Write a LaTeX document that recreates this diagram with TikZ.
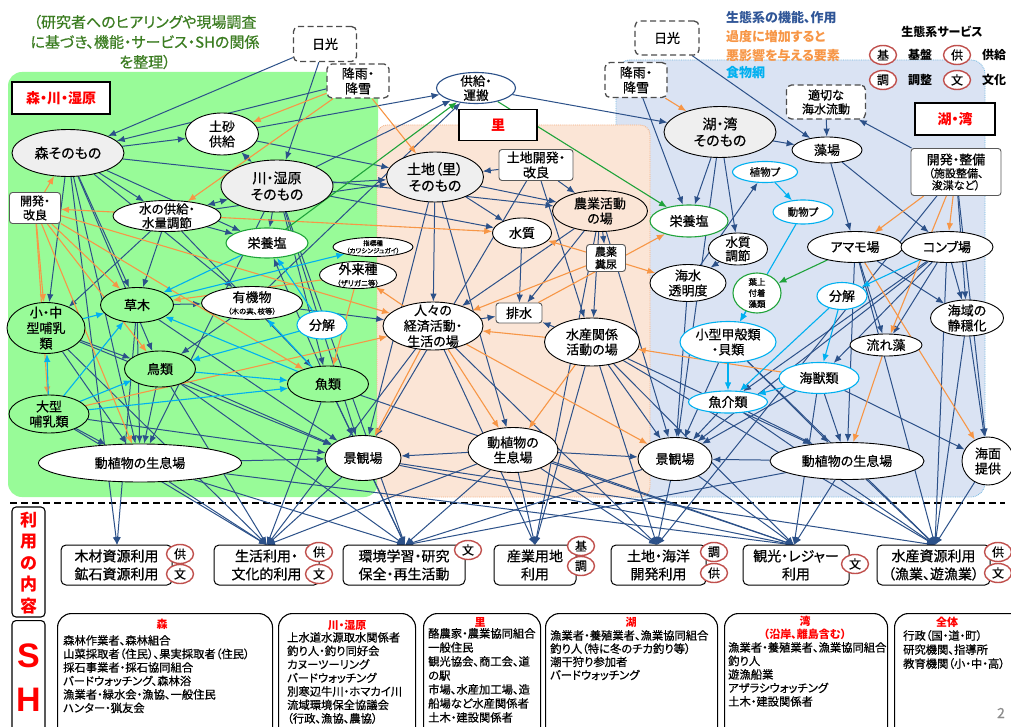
\documentclass[tikz,border=0pt]{standalone}
\usepackage{fontspec}
\setmainfont{Noto Sans CJK JP}[RawFeature=+palt, FakeBold=0.6, BoldFeatures={FakeBold=0}]
\newfontfamily\arialf{Liberation Sans}
\usetikzlibrary{shapes.geometric,arrows.meta}
\definecolor{gbg}{HTML}{98FB98}
\definecolor{pbg}{HTML}{FBE5D6}
\definecolor{pbd}{HTML}{F4B183}
\definecolor{bbg}{HTML}{DAE3F3}
\definecolor{bbd}{HTML}{6FB7E0}
\definecolor{grayf}{HTML}{EFEFEF}
\definecolor{dblue}{HTML}{2C5189}
\definecolor{orng}{HTML}{F79646}
\definecolor{lblue}{HTML}{00B0F0}
\definecolor{ngreen}{HTML}{1FA33A}
\definecolor{svcred}{HTML}{C0504D}
\definecolor{tgreen}{HTML}{3C7D22}
\definecolor{legblue}{HTML}{2F5597}
\pgfdeclarelayer{bgl}
\pgfdeclarelayer{edl}
\pgfsetlayers{bgl,edl,main}
\newcommand{\myell}[8]{%
  \node[#1, minimum width=#5, minimum height=#6] (#2) at (#3,#4) {};
  \node[txt, #8] (#2t) at (#2.center) {#7};}
\begin{document}
\begin{tikzpicture}[x=1pt,y=-1pt,
  txt/.style={inner sep=0pt, align=center, font=\fontsize{13}{15}\selectfont},
  el/.style={ellipse, draw=black, line width=0.9pt, fill=white, inner sep=0pt},
  elg/.style={el, fill=grayf},
  elgr/.style={el, fill=gbg},
  elp/.style={el, fill=pbg},
  ellb/.style={el, draw=lblue, line width=1.1pt},
  elgn/.style={el, draw=ngreen, line width=1.1pt},
  eldb/.style={el, draw=dblue, line width=1.1pt},
  rbox/.style={rectangle, rounded corners=3pt, draw=black!65, line width=0.9pt, fill=white, inner sep=0pt},
  dbox/.style={rectangle, rounded corners=5pt, draw=black!70, dash pattern=on 6pt off 3.5pt, line width=1.3pt, fill=white, inner sep=0pt},
  lbl/.style={rectangle, draw=black, line width=1.6pt, fill=white, text=red, font=\bfseries\fontsize{14}{16}\selectfont, inner sep=0pt},
  ubox/.style={rectangle, rounded corners=5pt, draw=black, line width=1pt, fill=white, inner sep=0pt},
  svc/.style={ellipse, draw=svcred, line width=1.4pt, fill=white, minimum width=27pt, minimum height=19pt, inner sep=0pt, font=\fontsize{12}{12}\selectfont},
  shbox/.style={rectangle, rounded corners=14pt, draw=black, line width=1.1pt, fill=white, anchor=north west, inner sep=0pt},
  shtxt/.style={anchor=north west, align=left, inner sep=0pt, font=\fontsize{11.3}{13.5}\selectfont},
  shttl/.style={text=red, font=\bfseries\fontsize{11}{13}\selectfont, inner sep=0pt, align=center},
  ab/.style={draw=dblue, line width=1pt, -{Latex[length=8pt,width=6.5pt]}},
  abb/.style={draw=dblue, line width=1pt, {Latex[length=8pt,width=6.5pt]}-{Latex[length=8pt,width=6.5pt]}},
  ao/.style={draw=orng, line width=1.1pt, -{Latex[length=8pt,width=6.5pt]}},
  aoo/.style={draw=orng, line width=1.1pt, {Latex[length=8pt,width=6.5pt]}-{Latex[length=8pt,width=6.5pt]}},
  al/.style={draw=lblue, line width=1.1pt, -{Latex[length=8pt,width=6.5pt]}},
  ag/.style={draw=ngreen, line width=1.1pt, -{Latex[length=8pt,width=6.5pt]}},
]
\useasboundingbox (0,0) rectangle (1011,727);

\begin{pgfonlayer}{bgl}
\fill[white] (0,0) rectangle (1011,727);
\fill[bbg, rounded corners=14] (616,60) rectangle (985,497);
\draw[densely dotted, draw=bbd, line width=0.8pt, rounded corners=14] (616,60) rectangle (985,497);
\fill[gbg, rounded corners=14] (8,72) rectangle (378,497);
\fill[pbg, rounded corners=10] (377,125) rectangle (650,497);
\draw[densely dotted, draw=pbd, line width=0.9pt, rounded corners=10] (377,125) rectangle (650,497);
\draw[dash pattern=on 7pt off 4pt, line width=1.2pt] (10,503) -- (1005,503);
\end{pgfonlayer}

% ---------- header texts
\node[inner sep=0pt, align=center, text=tgreen, font=\fontsize{15}{20}\selectfont] (note) at (145,42)
  {（研究者へのヒアリングや現場調査\\に基づき、機能・サービス・SHの関係\\を整理）};
\node[anchor=west, inner sep=0pt, text=legblue, font=\bfseries\fontsize{13}{15}\selectfont] (leg1) at (726,18) {生態系の機能、作用};
\node[anchor=west, inner sep=0pt, text=orng, font=\bfseries\fontsize{13}{15}\selectfont] (leg2) at (726,37) {過度に増加すると};
\node[anchor=west, inner sep=0pt, text=orng, font=\bfseries\fontsize{13}{15}\selectfont] (leg3) at (726,56) {悪影響を与える要素};
\node[anchor=west, inner sep=0pt, text=lblue, font=\bfseries\fontsize{13}{15}\selectfont] (leg4) at (726,73) {食物網};
\node[inner sep=0pt, font=\bfseries\fontsize{12}{14}\selectfont] (legs) at (942,32) {生態系サービス};
\node[svc] (lc1) at (883,55) {基};
\node[inner sep=0pt, font=\bfseries\fontsize{12}{14}\selectfont] (lt1) at (920,55) {基盤};
\node[svc] (lc2) at (957,55) {供};
\node[anchor=west, inner sep=0pt, font=\bfseries\fontsize{12}{14}\selectfont] (lt2) at (982,55) {供給};
\node[svc] (lc3) at (883,80) {調};
\node[inner sep=0pt, font=\bfseries\fontsize{12}{14}\selectfont] (lt3) at (920,80) {調整};
\node[svc] (lc4) at (957,80) {文};
\node[anchor=west, inner sep=0pt, font=\bfseries\fontsize{12}{14}\selectfont] (lt4) at (982,80) {文化};

% ---------- region labels
\node[lbl, minimum width=98, minimum height=32] (lbl1) at (61,98) {森・川・湿原};
\node[lbl, minimum width=78, minimum height=31] (lbl2) at (498,125) {里};
\node[lbl, minimum width=80, minimum height=32] (lbl3) at (955,119) {湖・湾};

% ---------- top nodes
\myell{dbox}{nikkoL}{325}{44}{63}{35}{日光}{}
\myell{dbox}{rainL}{358}{81}{62}{34}{降雨・\\降雪}{}
\myell{eldb}{kyoukyu}{476}{88}{79}{31}{供給・\\運搬}{font=\fontsize{12.5}{14}\selectfont}
\myell{dbox}{nikkoR}{667}{38}{64}{34}{日光}{}
\myell{dbox}{rainR}{636}{80}{62}{35}{降雨・\\降雪}{}

% ---------- forest / river
\myell{elg}{mori}{68}{153}{112}{47}{森そのもの}{font=\fontsize{14}{16}\selectfont}
\myell{el}{dosha}{222}{134}{73}{42}{土砂\\供給}{}
\myell{elg}{kawa}{277}{186}{112}{52}{川・湿原\\そのもの}{font=\fontsize{14}{16.5}\selectfont}
\myell{rbox}{kaihatsuL}{35}{208}{51}{31}{開発・\\改良}{font=\fontsize{12}{14}\selectfont}
\myell{el}{mizu}{167}{216}{108}{31}{水の供給・\\水量調節}{font=\fontsize{12.5}{14}\selectfont}
\myell{elgn}{eiyoL}{267}{243}{82}{30}{栄養塩}{}
\myell{el}{shihyo}{373}{247}{80}{19}{指標種\\（カワシンジュガイ）}{font=\fontsize{6.5}{7.5}\selectfont}
\myell{el}{gairai}{358}{275}{77}{27}{外来種\\[-3pt]{\fontsize{7.5}{8}\selectfont （ザリガニ等）}}{}
\myell{el}{yuki}{252}{303}{101}{33}{有機物\\[-3pt]{\fontsize{7.5}{8}\selectfont （木の実、枝等）}}{}
\myell{ellb}{bunL}{322}{325}{50}{28}{分解}{}
\myell{elgr}{kusa}{137}{305}{73}{35}{草木}{}
\myell{elgr}{shochu}{46}{328}{78}{51}{小・中\\型哺乳\\類}{font=\fontsize{13}{15.5}\selectfont}
\myell{elgr}{chorui}{160}{369}{71}{36}{鳥類}{}
\myell{elgr}{gyorui}{328}{384}{81}{36}{魚類}{}
\myell{elgr}{ogata}{49}{414}{80}{38}{大型\\哺乳類}{}
\myell{el}{seisokuL}{140}{463}{203}{38}{動植物の生息場}{}
\myell{el}{keikanL}{363}{458}{76}{45}{景観場}{}

% ---------- satoyama
\myell{elg}{tochi}{435}{177}{97}{50}{土地（里）\\そのもの}{font=\fontsize{14}{16.5}\selectfont}
\myell{rbox}{tochikai}{536}{165}{74}{31}{土地開発・\\改良}{}
\myell{elp}{nogyo}{600}{211}{95}{41}{農業活動\\の場}{}
\myell{el}{suishitsu}{522}{233}{59}{30}{水質}{}
\myell{rbox}{noyaku}{606}{258}{39}{27}{農薬\\糞尿}{font=\fontsize{11}{12.5}\selectfont}
\myell{el}{hito}{433}{326}{100}{48}{人々の\\経済活動・\\生活の場}{font=\fontsize{13}{15.5}\selectfont}
\myell{rbox}{haisui}{519}{313}{46}{20}{排水}{}
\myell{el}{suisan}{592}{342}{95}{48}{水産関係\\活動の場}{}
\myell{el}{seisokuM}{513}{450}{90}{45}{動植物の\\生息場}{}
\myell{el}{keikanM}{675}{459}{74}{43}{景観場}{}

% ---------- lake / bay
\myell{elg}{ko}{720}{132}{112}{51}{湖・湾\\そのもの}{font=\fontsize{14}{16.5}\selectfont}
\myell{dbox}{tekisetsu}{826}{102}{79}{34}{適切な\\海水流動}{font=\fontsize{12}{14}\selectfont}
\myell{el}{moba}{827}{150}{70}{26}{藻場}{}
\myell{rbox}{kaihatsuR}{956}{172}{90}{47}{開発・整備\\[-2pt]{\fontsize{11}{12}\selectfont （施設整備、}\\[-3pt]{\fontsize{11}{12}\selectfont 浚渫など）}}{}
\myell{ellb}{shokup}{765}{172}{65}{21}{植物プ}{font=\fontsize{10.5}{12}\selectfont}
\myell{ellb}{dobup}{803}{212}{60}{24}{動物プ}{font=\fontsize{10.5}{12}\selectfont}
\myell{elgn}{eiyoR}{689}{221}{78}{32}{栄養塩}{}
\myell{el}{suishitsuR}{738}{249}{59}{32}{水質\\調節}{font=\fontsize{12.5}{13.5}\selectfont}
\myell{el}{amamo}{855}{247}{95}{31}{アマモ場}{}
\myell{el}{konbu}{947}{247}{92}{31}{コンブ場}{}
\myell{el}{tomei}{688}{283}{76}{37}{海水\\透明度}{}
\myell{elgn}{yojo}{757}{293}{48}{40}{葉上\\付着\\藻類}{font=\fontsize{8.5}{11}\selectfont}
\myell{ellb}{bunR}{842}{296}{50}{27}{分解}{}
\myell{el}{seion}{967}{318}{73}{36}{海域の\\静穏化}{}
\myell{ellb}{kogata}{728}{342}{96}{41}{小型甲殻類\\・貝類}{}
\myell{el}{nagare}{886}{345}{72}{22}{流れ藻}{}
\myell{ellb}{kaiju}{819}{378}{80}{31}{海獣類}{}
\myell{ellb}{gyokai}{728}{402}{79}{22}{魚介類}{}
\myell{el}{seisokuR}{847}{461}{154}{37}{動植物の生息場}{}
\myell{el}{kaimen}{988}{461}{52}{48}{海面\\提供}{}

% ---------- use boxes
\myell{ubox}{u1}{116.5}{565}{111}{40}{木材資源利用\\鉱石資源利用}{font=\fontsize{14}{18}\selectfont}
\myell{ubox}{u2}{266.5}{565}{105}{40}{生活利用・\\文化的利用}{font=\fontsize{14}{18}\selectfont}
\myell{ubox}{u3}{404}{565}{122}{40}{環境学習・研究\\保全・再生活動}{font=\fontsize{14}{18}\selectfont}
\myell{ubox}{u4}{535}{565}{82}{40}{産業用地\\利用}{font=\fontsize{14}{18}\selectfont}
\myell{ubox}{u5}{658.5}{565}{95}{40}{土地・海洋\\開発利用}{font=\fontsize{14}{18}\selectfont}
\myell{ubox}{u6}{796}{565}{106}{40}{観光・レジャー\\利用}{font=\fontsize{14}{18}\selectfont}
\myell{ubox}{u7}{933.5}{565}{113}{40}{水産資源利用\\（漁業、遊漁業）}{font=\fontsize{14}{18}\selectfont}
\coordinate (u1t) at (117,545);
\coordinate (u2t) at (267,545);
\coordinate (u3t) at (405,545);
\coordinate (u4t) at (535,545);
\coordinate (u5t) at (657,545);
\coordinate (u6t) at (794,545);
\coordinate (u7t) at (935,545);
\node[svc] (c1a) at (180,554) {供};
\node[svc] (c1b) at (180,574) {文};
\node[svc] (c2a) at (319,552) {供};
\node[svc] (c2b) at (319,574) {文};
\node[svc] (c3a) at (468,550) {文};
\node[svc] (c4a) at (581,546) {基};
\node[svc] (c4b) at (581,566) {調};
\node[svc] (c5a) at (714,552) {調};
\node[svc] (c5b) at (714,573) {供};
\node[svc] (c6a) at (855,564) {文};
\node[svc] (c7a) at (998,552) {供};
\node[svc] (c7b) at (998,573) {文};

% ---------- left side labels
\node[rectangle, rounded corners=4pt, draw=black, line width=1.1pt, minimum width=33, minimum height=110, inner sep=0pt] (uselbl) at (28.5,562) {};
\node[inner sep=0pt, align=center, text=red, font=\bfseries\fontsize{17}{21.5}\selectfont] (uselblt) at (28.5,563) {利\\用\\の\\内\\容};
\node[rectangle, rounded corners=4pt, draw=black, line width=1.1pt, minimum width=33, minimum height=130, anchor=north, inner sep=0pt] (shlbl) at (28.5,620) {};
\node[inner sep=0pt, text=red, font=\arialf\bfseries\fontsize{34}{36}\selectfont] (shS) at (28.5,656) {S};
\node[inner sep=0pt, text=red, font=\arialf\bfseries\fontsize{34}{36}\selectfont] (shH) at (28.5,700) {H};

% ---------- stakeholder boxes
\node[shbox, minimum width=215, minimum height=140] (sh1) at (57,613) {};
\node[shttl] (sh1h) at (162,624) {森};
\node[shtxt] (sh1t) at (63,635) {森林作業者、森林組合\\山菜採取者（住民）、果実採取者（住民）\\採石事業者・採石協同組合\\バードウォッチング、森林浴\\漁業者・緑水会・漁協、一般住民\\ハンター・猟友会};
\node[shbox, minimum width=137, minimum height=140] (sh2) at (278,613) {};
\node[shttl] (sh2h) at (347,625) {川・湿原};
\node[shtxt] (sh2t) at (287,632) {上水道水源取水関係者\\釣り人・釣り同好会\\カヌーツーリング\\バードウォッチング\\別寒辺牛川・ホマカイ川\\流域環境保全協議会\\（行政、漁協、農協）};
\node[shbox, minimum width=117, minimum height=140] (sh3) at (423,613) {};
\node[shttl] (sh3h) at (480,622) {里};
\node[shtxt, font=\fontsize{11.3}{14}\selectfont] (sh3t) at (428,628) {酪農家・農業協同組合\\一般住民\\観光協会、商工会、道\\の駅\\市場、水産加工場、造\\船場など水産関係者\\土木・建設関係者};
\node[shbox, minimum width=172, minimum height=140] (sh4) at (545,613) {};
\node[shttl] (sh4h) at (631,622) {湖};
\node[shtxt, font=\fontsize{11.3}{13.2}\selectfont] (sh4t) at (550,630) {漁業者・養殖業者、漁業協同組合\\釣り人（特に冬のチカ釣り等）\\潮干狩り参加者\\バードウォッチング};
\node[shbox, minimum width=163, minimum height=140] (sh5) at (724,613) {};
\node[shttl] (sh5h) at (805,628) {湾\\（沿岸、離島含む）};
\node[shtxt] (sh5t) at (728,642) {漁業者・養殖業者、漁業協同組合\\釣り人\\遊漁船業\\アザラシウォッチング\\土木・建設関係者};
\node[shbox, minimum width=135, minimum height=140] (sh6) at (894,613) {};
\node[shttl] (sh6h) at (947,622) {全体};
\node[shtxt, font=\fontsize{11.3}{14}\selectfont] (sh6t) at (903,630) {行政（国・道・町）\\研究機関、指導所\\教育機関（小・中・高）};
\node[inner sep=0pt, text=black!45, font=\fontsize{14}{16}\selectfont] (pg) at (1001,713) {2};

% ---------- connectors
\begin{pgfonlayer}{edl}
\foreach \a/\b in {nikkoL/mori, nikkoL/kawa, rainL/mori, nikkoR/moba, rainR/eiyoR,
  dosha/kyoukyu, kawa/kyoukyu, yuki/kyoukyu, kyoukyu/ko,
  mori/dosha, dosha/tochi, mori/mizu, mori/eiyoL, mori/shochu, mori/kusa, mori/chorui, mori/seisokuL, mori/yuki, mori/u1t, mori/nogyo,
  kawa/eiyoL, kawa/gyorui, kawa/tochi, kawa/keikanL, kawa/suishitsu, kawa/seisokuL, kawa/u3t,
  mizu/eiyoL, mizu/kusa, mizu/shochu, mizu/gyorui, mizu/tochi,
  gyorui/eiyoL, yuki/chorui, yuki/hito, kusa/yuki,
  kusa/seisokuL, kusa/keikanL, kusa/u1t,
  chorui/seisokuL, chorui/keikanL, chorui/u2t, chorui/u3t,
  shochu/chorui, shochu/seisokuL, shochu/keikanL, shochu/u2t,
  ogata/seisokuL, ogata/keikanL, ogata/u2t,
  gyorui/keikanL, gyorui/u2t, gyorui/u3t, gyorui/u6t,
  seisokuL/keikanL, seisokuL/u2t, seisokuL/u3t, seisokuL/u6t,
  keikanL/u2t, keikanL/u3t, keikanL/u6t, keikanL/u7t,
  tochikai/tochi, tochikai/nogyo, tochikai/suisan, tochikai/keikanL,
  tochi/nogyo, tochi/suishitsu, tochi/hito, tochi/seisokuM, tochi/keikanL,
  nogyo/noyaku, nogyo/haisui, nogyo/hito, nogyo/u4t, nogyo/keikanM, nogyo/suisan,
  suishitsu/haisui, hito/haisui, suisan/haisui,
  hito/u2t, hito/u4t, hito/u5t,
  suisan/u4t, suisan/u5t, suisan/u6t, suisan/u7t, suisan/keikanM, suisan/seisokuR,
  seisokuM/keikanL, seisokuM/keikanM, seisokuM/u2t, seisokuM/u3t, seisokuM/u4t, seisokuM/u5t, seisokuM/u6t,
  keikanM/u3t, keikanM/u6t, keikanM/u5t,
  ko/moba, ko/suishitsuR, ko/keikanM, ko/eiyoR,
  tekisetsu/moba, kaihatsuR/tekisetsu, moba/amamo, moba/konbu,
  tomei/shokup,
  amamo/nagare, amamo/seion, amamo/seisokuR, amamo/u7t,
  konbu/gyokai, konbu/kaiju, konbu/nagare, konbu/seion, konbu/u7t, konbu/keikanM,
  kaihatsuR/seion, kaihatsuR/kaimen, kaihatsuR/u5t,
  seion/kaimen, seion/u7t,
  kaiju/seisokuR, kaiju/kaimen, kaiju/keikanM, kaiju/u6t,
  gyokai/keikanM, gyokai/seisokuR, gyokai/u7t,
  kogata/keikanM, kogata/seisokuR, kogata/u7t,
  suishitsuR/tomei, tomei/keikanM,
  seisokuR/keikanM, seisokuR/u7t, seisokuR/u6t, seisokuR/u3t,
  kaimen/u7t}
  \draw[ab] (\a) -- (\b);
\foreach \a/\b in {dosha/kawa, mizu/kawa}
  \draw[abb] (\a) -- (\b);
\foreach \a/\b in {rainL/dosha, rainL/mizu, rainL/tochi, rainR/ko,
  kaihatsuL/mori, kaihatsuL/shochu, kaihatsuL/ogata, kaihatsuL/kusa, kaihatsuL/chorui, kaihatsuL/seisokuL, kaihatsuL/gyorui, kaihatsuL/hito,
  gairai/gyorui, gairai/kusa, hito/gairai, ogata/hito, hito/keikanL, hito/seisokuM, hito/keikanM,
  suisan/hito, suisan/seisokuM, noyaku/suishitsu, noyaku/hito, noyaku/tomei, haisui/eiyoR, kaiju/suisan,
  kaihatsuR/amamo, kaihatsuR/konbu, kaihatsuR/nagare, nagare/seisokuR, amamo/kaimen}
  \draw[ao] (\a) -- (\b);
\draw[aoo] (kaihatsuL) -- (suishitsu);
\foreach \a/\b in {eiyoL/kusa, kusa/shihyo, bunL/eiyoL, bunL/chorui, gyorui/yuki, gyorui/kusa, chorui/gyorui,
  ogata/shochu, ogata/chorui, ogata/kusa, shochu/kusa, ogata/gyorui,
  shokup/dobup, dobup/kogata, yojo/kogata, kogata/gyokai, bunR/kaiju, bunR/gyokai, konbu/bunR, kaiju/gyokai}
  \draw[al] (\a) -- (\b);
\foreach \a/\b in {eiyoL/kyoukyu, kyoukyu/eiyoR, amamo/yojo}
  \draw[ag] (\a) -- (\b);
\end{pgfonlayer}
\end{tikzpicture}
\end{document}
